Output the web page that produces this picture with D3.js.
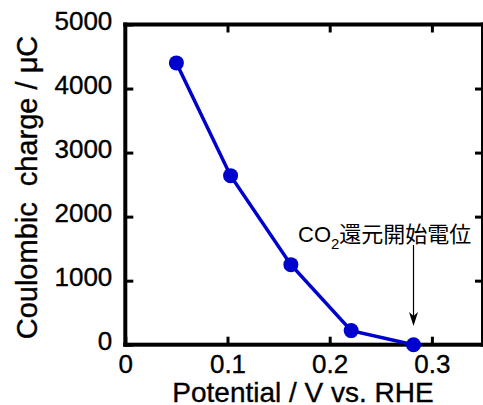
<!DOCTYPE html>
<html>
  <head>
    <meta charset="utf-8">
    <title>coulombic charge</title>
    <script src="https://cdn.jsdelivr.net/npm/d3@7/dist/d3.min.js"></script>
<style>
body { margin: 0; background: #ffffff; }
svg { display: block; }
text { font-family: "Liberation Sans", Arial, sans-serif; fill: #000000; }
.lbl { stroke: #000000; stroke-width: 0.35px; }
.ann { font-family: "Liberation Sans", "Noto Sans CJK JP", sans-serif; }
</style>
  </head>
  <body>
    <svg></svg>
    <script>
      // data
      var potential = [0.05, 0.103, 0.162, 0.221, 0.282];
      var charge = [4400, 2640, 1250, 220, 0];
      var xTicks = [0, 0.1, 0.2, 0.3];
      var yTicks = [0, 1000, 2000, 3000, 4000, 5000];
      var onsetPotential = 0.282;

      var width = 483, height = 405;
      var pLeft = 125.3, pRight = 483, pTop = 24.5, pBottom = 344.7;
      var fw = 4; // frame thickness

      var svg = d3.select("svg").attr("width", width).attr("height", height);

      var x = d3.scaleLinear().domain([0, 0.35]).range([pLeft, pRight]);
      var y = d3.scaleLinear().domain([0, 5000]).range([pBottom, pTop]);

      // ticks, all pointing inward
      var tickLen = 8;
      var fmtX = function(d){ return d === 0 ? "0" : d3.format(".1f")(d); };

      svg.append("g").attr("transform", "translate(0," + pBottom + ")")
        .call(d3.axisBottom(x).tickValues(xTicks).tickSize(-tickLen).tickPadding(12).tickFormat(fmtX))
        .call(function(g){
          g.select(".domain").remove();
          g.selectAll("line").attr("stroke", "#000").attr("stroke-width", 3);
          g.selectAll("text").attr("class", "lbl").attr("font-size", 26).attr("font-family", "Liberation Sans, Arial, sans-serif").attr("dy", "0.62em");
        });

      svg.append("g").attr("transform", "translate(0," + pTop + ")")
        .call(d3.axisTop(x).tickValues(xTicks.filter(function(d){ return d > 0; })).tickSize(-tickLen).tickFormat(""))
        .call(function(g){
          g.select(".domain").remove();
          g.selectAll("line").attr("stroke", "#000").attr("stroke-width", 3);
        });

      svg.append("g").attr("transform", "translate(" + pLeft + ",0)")
        .call(d3.axisLeft(y).tickValues(yTicks).tickSize(-tickLen).tickPadding(13).tickFormat(d3.format("d")))
        .call(function(g){
          g.select(".domain").remove();
          g.selectAll("line").attr("stroke", "#000").attr("stroke-width", 3);
          g.selectAll("text").attr("class", "lbl").attr("font-size", 26).attr("font-family", "Liberation Sans, Arial, sans-serif").attr("dy", "0.2em");
        });

      svg.append("g").attr("transform", "translate(" + pRight + ",0)")
        .call(d3.axisRight(y).tickValues(yTicks.filter(function(d){ return d > 0 && d < 5000; })).tickSize(-tickLen).tickFormat(""))
        .call(function(g){
          g.select(".domain").remove();
          g.selectAll("line").attr("stroke", "#000").attr("stroke-width", 3);
        });

      // frame as four filled bars
      var edges = [
        [pLeft - fw / 2, pTop - fw / 2, pRight - pLeft + fw, fw],
        [pLeft - fw / 2, pBottom - fw / 2, pRight - pLeft + fw, fw],
        [pLeft - fw / 2, pTop - fw / 2, fw, pBottom - pTop + fw],
        [pRight - fw / 2, pTop - fw / 2, fw, pBottom - pTop + fw]
      ];
      svg.selectAll("rect.edge").data(edges).enter()
        .append("rect").attr("class", "edge")
        .attr("x", function(d){ return d[0]; })
        .attr("y", function(d){ return d[1]; })
        .attr("width", function(d){ return d[2]; })
        .attr("height", function(d){ return d[3]; })
        .attr("fill", "#000");

      // series
      var pts = potential.map(function(p, i){ return [p, charge[i]]; });
      svg.append("path")
        .attr("d", d3.line().x(function(d){ return x(d[0]); }).y(function(d){ return y(d[1]); })(pts))
        .attr("fill", "none").attr("stroke", "#0000cc").attr("stroke-width", 3.5);

      svg.selectAll("circle.pt").data(pts).enter()
        .append("circle").attr("class", "pt")
        .attr("cx", function(d){ return x(d[0]); })
        .attr("cy", function(d){ return y(d[1]); })
        .attr("r", 7.5)
        .attr("fill", "#0000cc");

      // axis titles
      svg.append("text").attr("class", "lbl")
        .attr("x", (168 + 438) / 2).attr("y", 401.5)
        .attr("text-anchor", "middle").attr("font-size", 28)
        .text("Potential / V vs. RHE");

      svg.append("text").attr("class", "lbl")
        .attr("transform", "translate(36.5," + 187.5 + ") rotate(-90)")
        .attr("text-anchor", "middle").attr("font-size", 29)
        .style("white-space", "pre")
        .text("Coulombic  charge / \u03bcC");

      // annotation
      var ann = svg.append("text").attr("class", "ann")
        .attr("x", 298).attr("y", 241.5).attr("font-size", 22);
      ann.append("tspan").text("CO");
      ann.append("tspan").attr("font-size", 15).attr("dy", 7).text("2");
      ann.append("tspan").attr("dy", -7)
        .style("font-family", "'Noto Sans CJK JP', sans-serif")
        .text("還元開始電位");

      var ax = x(onsetPotential);
      svg.append("line")
        .attr("x1", ax).attr("x2", ax).attr("y1", 245).attr("y2", 318)
        .attr("stroke", "#000").attr("stroke-width", 1.2);
      svg.append("path")
        .attr("d", "M" + ax + ",326 L" + (ax - 4.5) + ",312 L" + ax + ",316 L" + (ax + 4.5) + ",312 Z")
        .attr("fill", "#000");
    </script>
  </body>
</html>
